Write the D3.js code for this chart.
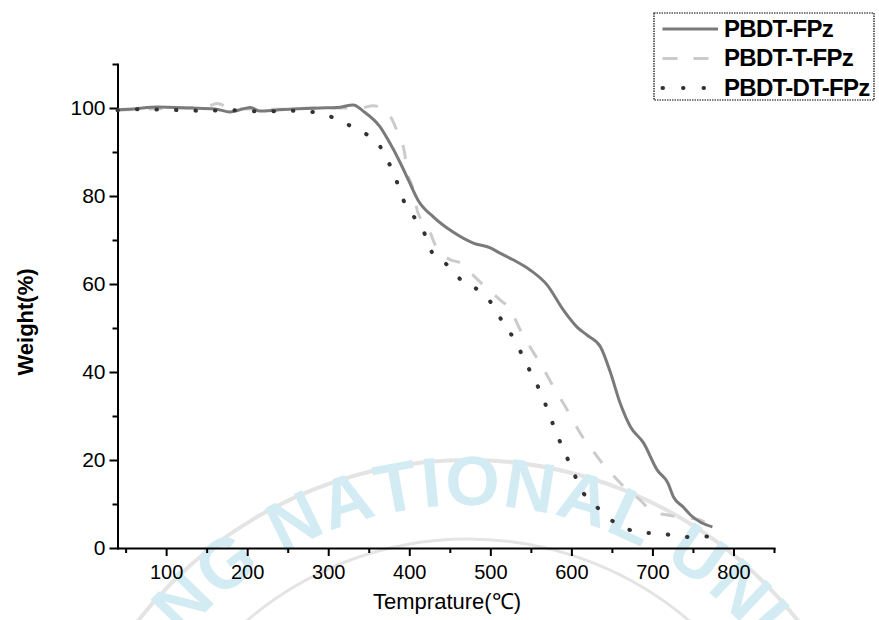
<!DOCTYPE html>
<html>
<head>
<meta charset="utf-8">
<script src="https://cdn.jsdelivr.net/npm/d3@7"></script>
<style>
  body { margin: 0; background: #fff; }
  svg { display: block; }
  text { font-family: Arial, "Liberation Sans", sans-serif; }
</style>
</head>
<body>
<svg id="chart" width="879" height="620"></svg>
<script>
// values
var seriesNames = ["PBDT-FPz", "PBDT-T-FPz", "PBDT-DT-FPz"];

var tempFPz   = [40, 60, 89, 130, 160, 179, 195, 204, 216, 235, 257, 290, 311, 331, 343, 364, 374, 389, 399, 411, 430, 454, 479, 500, 512, 528, 549, 570, 590, 607, 620, 636, 648, 660, 673, 689, 706, 719, 726, 738, 747, 760, 774];
var weightFPz = [99.6, 99.8, 100.2, 100, 99.8, 99.1, 99.8, 100.1, 99.3, 99.5, 99.8, 100, 100.1, 100.7, 99.3, 95.7, 92.7, 87.5, 83.6, 79, 75.2, 71.8, 69.3, 68.2, 67, 65.5, 63.2, 59.8, 54.1, 50.2, 48.3, 45.7, 40, 33, 27.5, 23.9, 17.7, 14.8, 11.6, 9.3, 7.5, 5.8, 4.8];

var tempTFPz   = [40, 80, 120, 150, 163, 179, 200, 240, 280, 320, 340, 355, 367, 379, 388, 394, 397, 404, 411, 423, 432, 442, 451, 463, 481, 494, 512, 525, 537, 549, 559, 572, 580, 593, 602, 614, 623, 638, 651, 669, 685, 700, 719, 740, 757, 770];
var weightTFPz = [99.5, 99.8, 100, 100.3, 101, 100, 99.8, 99.7, 100, 100, 100, 100.5, 100, 97.3, 93.2, 90, 85.9, 82, 76, 73, 68.9, 66.5, 65.5, 64.8, 61.6, 59.3, 56.4, 54.1, 49.5, 45.7, 42.7, 38.6, 35.9, 32, 29, 25.2, 23, 19.3, 16.6, 13.2, 10.9, 8.2, 7.5, 6.8, 6.5, 5];

var tempDTFPz   = [40, 60, 100, 140, 180, 220, 250, 280, 294, 316, 338, 360, 373, 383, 391, 405, 419, 428, 447, 464, 485, 502, 516, 530, 541, 552, 563, 572, 581, 591, 601, 611, 627, 646, 667, 688, 710, 732, 756, 772];
var weightDTFPz = [99.5, 99.7, 99.6, 99.4, 99.5, 99.2, 99.4, 99.1, 98.6, 97, 94.8, 92.3, 88.2, 84.1, 79.8, 75.5, 71.4, 67.2, 64.3, 60.9, 58.6, 55.5, 51.1, 47.3, 43.2, 39.1, 35, 30.7, 26.4, 22, 18, 13.6, 10.2, 6.8, 4.5, 3.4, 3.4, 2.5, 2.5, 2.7];

var xMajorTicks = [100, 200, 300, 400, 500, 600, 700, 800];
var xMinorTicks = [50, 150, 250, 350, 450, 550, 650, 750, 850];
var yMajorTicks = [0, 20, 40, 60, 80, 100];
var yMinorTicks = [10, 30, 50, 70, 90, 110];

var watermarkText = "PUKYONG NATIONAL UNIVERSITY";

var svg = d3.select("#chart");
var margin = {left: 117.5, right: 105, top: 64, bottom: 72};
var W = 879, H = 620;

var x = d3.scaleLinear().domain([40, 850]).range([margin.left, W - margin.right]);
var y = d3.scaleLinear().domain([0, 110]).range([H - margin.bottom, margin.top]);

// faint university watermark behind everything, one letter at a time round an arc
var wm = svg.append("g").attr("class", "watermark");
var cx = 468, cy = 879, rText = 374, wmSize = 70, wmGap = 2;
var midAngle = -1; // degrees from the top, where the middle of "NATIONAL" sits
[419, 340].forEach(function(r, i) {
  wm.append("circle").attr("cx", cx).attr("cy", cy).attr("r", r)
    .attr("fill", "none").attr("stroke", "#e4e4e4").attr("stroke-width", i ? 3 : 4);
});
var probe = wm.append("text").attr("font-size", wmSize).attr("font-weight", "bold");
var widths = watermarkText.split("").map(function(ch) {
  probe.text(ch === " " ? "\u00a0" : ch);
  return probe.node().getComputedTextLength() + wmGap;
});
probe.remove();
var nStart = watermarkText.indexOf("NATIONAL");
var pos = -(d3.sum(widths.slice(0, nStart)) + d3.sum(widths.slice(nStart, nStart + 8)) / 2);
watermarkText.split("").forEach(function(ch, i) {
  var mid = pos + widths[i] / 2;
  pos += widths[i];
  if (ch === " ") return;
  var a = midAngle * Math.PI / 180 + mid / rText;
  var px = cx + rText * Math.sin(a), py = cy - rText * Math.cos(a);
  if (px < -20 || px > W + 20 || py > H + 30) return; // falls outside the picture
  wm.append("text")
    .attr("transform", "translate(" + px + "," + py + ") rotate(" + (a * 180 / Math.PI) + ")")
    .attr("text-anchor", "middle")
    .attr("font-size", wmSize).attr("font-weight", "bold").attr("fill", "#d3ecf3")
    .text(ch);
});

// axes
var xAxis = svg.append("g").attr("transform", "translate(0," + y(0) + ")");
xAxis.call(d3.axisBottom(x).tickValues(xMajorTicks).tickSize(8).tickSizeOuter(0).tickPadding(6));
var xMinor = xAxis.append("g").call(d3.axisBottom(x).tickValues(xMinorTicks).tickSize(5));
xMinor.select(".domain").remove();
xMinor.selectAll("text").remove();

var yAxis = svg.append("g").attr("transform", "translate(" + x(40) + ",0)");
yAxis.call(d3.axisLeft(y).tickValues(yMajorTicks).tickSize(8).tickSizeOuter(0).tickPadding(4));
var yMinor = yAxis.append("g").call(d3.axisLeft(y).tickValues(yMinorTicks).tickSize(5));
yMinor.select(".domain").remove();
yMinor.selectAll("text").remove();

svg.selectAll(".domain, .tick line").attr("stroke", "#000").attr("stroke-width", 2);
xAxis.selectAll(".tick text").attr("font-size", 20).attr("fill", "#000").attr("dy", "0.85em");
yAxis.selectAll(".tick text").attr("font-size", 21).attr("fill", "#000");
svg.selectAll(".domain").attr("stroke-linecap", "square");

// axis titles
svg.append("text")
  .attr("x", 447).attr("y", 609)
  .attr("text-anchor", "middle").attr("font-size", 22)
  .text("Temprature(\u2103)");

svg.append("text")
  .attr("transform", "translate(33,322) rotate(-90)")
  .attr("text-anchor", "middle").attr("font-size", 22).attr("font-weight", "bold")
  .text("Weight(%)");

// curves
var line = d3.line()
  .x(function(d) { return x(d[0]); })
  .y(function(d) { return y(d[1]); })
  .curve(d3.curveMonotoneX);

var styles = [
  {stroke: "#7a7a7a", width: 3, dash: null, cap: "butt"},
  {stroke: "#cbcbcb", width: 3, dash: "14,17", cap: "butt"},
  {stroke: "#333333", width: 4, dash: "0.5,19", cap: "round"}
];
var series = [
  d3.zip(tempFPz, weightFPz),
  d3.zip(tempTFPz, weightTFPz),
  d3.zip(tempDTFPz, weightDTFPz)
];

// draw dashed first so the solid sits on top, dots last
[1, 0, 2].forEach(function(i) {
  svg.append("path")
    .datum(series[i])
    .attr("d", line)
    .attr("fill", "none")
    .attr("stroke", styles[i].stroke)
    .attr("stroke-width", styles[i].width)
    .attr("stroke-dasharray", styles[i].dash)
    .attr("stroke-linecap", styles[i].cap)
    .attr("stroke-linejoin", "round");
});

// legend
var legend = svg.append("g").attr("transform", "translate(654,13)");
legend.append("rect")
  .attr("width", 220).attr("height", 87)
  .attr("fill", "#fff").attr("stroke", "#000").attr("stroke-width", 1.2)
  .attr("stroke-dasharray", "1.5,1");

seriesNames.forEach(function(name, i) {
  var ly = 16 + i * 29.5;
  legend.append("line")
    .attr("x1", 8.5).attr("x2", 64).attr("y1", ly).attr("y2", ly)
    .attr("stroke", styles[i].stroke)
    .attr("stroke-width", styles[i].width)
    .attr("stroke-dasharray", i === 1 ? "15,16" : (i === 2 ? "0.5,20" : null))
    .attr("stroke-linecap", styles[i].cap);
  legend.append("text")
    .attr("x", 70).attr("y", ly + 7.5)
    .attr("font-size", 24).attr("font-weight", "bold")
    .attr("letter-spacing", -0.7)
    .text(name);
});
</script>
</body>
</html>
